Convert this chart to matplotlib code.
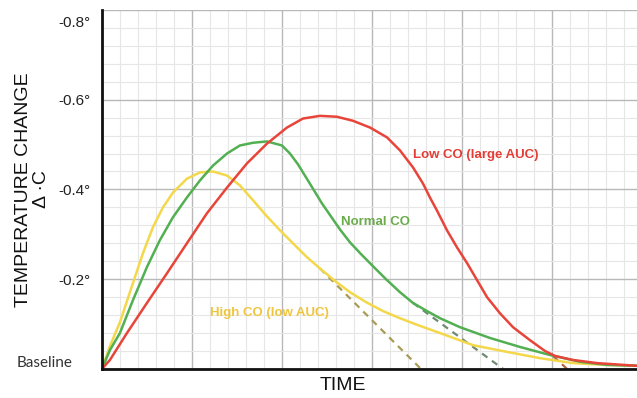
import matplotlib
matplotlib.use("Agg")
import matplotlib.pyplot as plt
import matplotlib.ticker as mticker
from matplotlib.transforms import ScaledTranslation

plt.rcParams["font.family"] = ["Liberation Sans", "DejaVu Sans"]

# time in grid units (one major square = 1), temperature drop in degrees
high_x = [0.00, 0.089, 0.20, 0.344, 0.456, 0.567, 0.678, 0.789, 0.944, 1.089,
          1.233, 1.389, 1.533, 1.678, 1.833, 1.978, 2.122, 2.267, 2.422, 2.589,
          2.756, 2.933, 3.122, 3.311, 3.533, 3.756, 4.122, 4.50, 4.867, 5.233,
          5.589, 5.944]
high_y = [0.000, 0.051, 0.104, 0.191, 0.258, 0.316, 0.360, 0.393, 0.424, 0.438,
          0.440, 0.431, 0.409, 0.376, 0.340, 0.309, 0.280, 0.251, 0.224, 0.196,
          0.171, 0.149, 0.129, 0.113, 0.096, 0.080, 0.053, 0.038, 0.024, 0.013,
          0.009, 0.007]

normal_x = [0.00, 0.089, 0.20, 0.344, 0.50, 0.644, 0.789, 0.944, 1.089, 1.233,
            1.389, 1.533, 1.678, 1.833, 2.00, 2.089, 2.178, 2.267, 2.356, 2.444,
            2.544, 2.644, 2.756, 2.878, 3.011, 3.156, 3.311, 3.456, 3.611, 3.756,
            3.978, 4.311, 4.644, 4.978, 5.311, 5.611, 5.944]
normal_y = [0.000, 0.042, 0.080, 0.153, 0.227, 0.287, 0.338, 0.382, 0.420, 0.453,
            0.480, 0.498, 0.504, 0.507, 0.498, 0.480, 0.456, 0.427, 0.398, 0.369,
            0.340, 0.311, 0.282, 0.256, 0.229, 0.200, 0.171, 0.147, 0.129, 0.113,
            0.093, 0.069, 0.049, 0.031, 0.016, 0.009, 0.007]

low_x = [0.00, 0.089, 0.278, 0.50, 0.722, 0.944, 1.167, 1.389, 1.611, 1.833,
         2.056, 2.233, 2.422, 2.611, 2.789, 2.978, 3.167, 3.311, 3.456, 3.567,
         3.644, 3.722, 3.833, 3.944, 4.056, 4.167, 4.278, 4.422, 4.567, 4.756,
         4.922, 5.033, 5.233, 5.50, 5.944]
low_y = [0.000, 0.020, 0.080, 0.147, 0.213, 0.280, 0.347, 0.404, 0.458, 0.502,
         0.538, 0.558, 0.564, 0.562, 0.553, 0.538, 0.516, 0.487, 0.449, 0.413,
         0.382, 0.353, 0.309, 0.271, 0.236, 0.198, 0.160, 0.124, 0.093, 0.064,
         0.040, 0.029, 0.020, 0.013, 0.007]

# extrapolated tails (dashed)
high_tan_x = [2.422, 3.544]
high_tan_y = [0.224, 0.0]
normal_tan_x = [3.456, 4.456]
normal_tan_y = [0.147, 0.0]
low_tan_x = [5.011, 5.167]
low_tan_y = [0.029, 0.0]

ytick_vals = [0.0, 0.2, 0.4, 0.6, 0.8]
ytick_labels = ["Baseline", "-0.2°", "-0.4°", "-0.6°", "-0.8°"]

red = "#e8453a"
green = "#52b052"
yellow = "#f3d84c"

fig = plt.figure(figsize=(6.37, 3.98), dpi=100)
ax = fig.add_axes([0.160, 0.073, 0.840, 0.902])

ax.plot(high_tan_x, high_tan_y, color="#a89c55", lw=1.6, ls=(0, (3, 2.5)))
ax.plot(normal_tan_x, normal_tan_y, color="#6e8a70", lw=1.6, ls=(0, (3, 2.5)))
ax.plot(low_tan_x, low_tan_y, color="#b5653e", lw=1.6, ls=(0, (3, 2.5)))

ax.plot(high_x, high_y, color=yellow, lw=1.8, solid_joinstyle="round")
ax.plot(normal_x, normal_y, color=green, lw=1.8, solid_joinstyle="round")
ax.plot(low_x, low_y, color=red, lw=1.8, solid_joinstyle="round")

ax.text(4.156, 0.476, "Low CO (large AUC)", color="#e43d35", fontsize=9.5,
        fontweight="bold", ha="center", va="center")
ax.text(3.044, 0.327, "Normal CO", color="#6aab4c", fontsize=9.5,
        fontweight="bold", ha="center", va="center")
ax.text(1.856, 0.124, "High CO (low AUC)", color="#f0c53c", fontsize=9.5,
        fontweight="bold", ha="center", va="center")

ax.set_xlim(0, 5.944)
ax.set_ylim(0, 0.798)

ax.xaxis.set_major_locator(mticker.MultipleLocator(1))
ax.xaxis.set_minor_locator(mticker.MultipleLocator(0.2))
ax.set_yticks(ytick_vals)
ax.set_yticklabels(ytick_labels)
ax.yaxis.set_minor_locator(mticker.MultipleLocator(0.04))
ax.tick_params(axis="both", which="both", length=0)
ax.tick_params(axis="x", labelbottom=False)
ax.tick_params(axis="y", pad=8, labelsize=11, labelcolor="#222222")

labels = ax.get_yticklabels()
labels[0].set_fontfamily("Lato")
labels[0].set_fontsize(11)
labels[0].set_color("#333333")
labels[0].set_transform(labels[0].get_transform()
                        + ScaledTranslation(-18 / 100, 7 / 100, fig.dpi_scale_trans))
labels[-1].set_transform(labels[-1].get_transform()
                         + ScaledTranslation(0, -12 / 100, fig.dpi_scale_trans))

ax.grid(which="major", color="#b8b8b8", lw=1.0)
ax.grid(which="minor", color="#e6e6e6", lw=0.8)
ax.set_axisbelow(True)

for s in ["top", "right"]:
    ax.spines[s].set_visible(False)
for s in ["left", "bottom"]:
    ax.spines[s].set_linewidth(2)
    ax.spines[s].set_color("#111111")

ax.set_ylabel("TEMPERATURE CHANGE\nΔ ·C", fontsize=14, linespacing=1.05,
              color="#111111")
ax.yaxis.set_label_coords(-0.097, 0.5)
ax.set_xlabel("TIME", fontsize=14, color="#111111")
ax.xaxis.set_label_coords(0.45, -0.022)

fig.savefig("out.png", dpi=100)
